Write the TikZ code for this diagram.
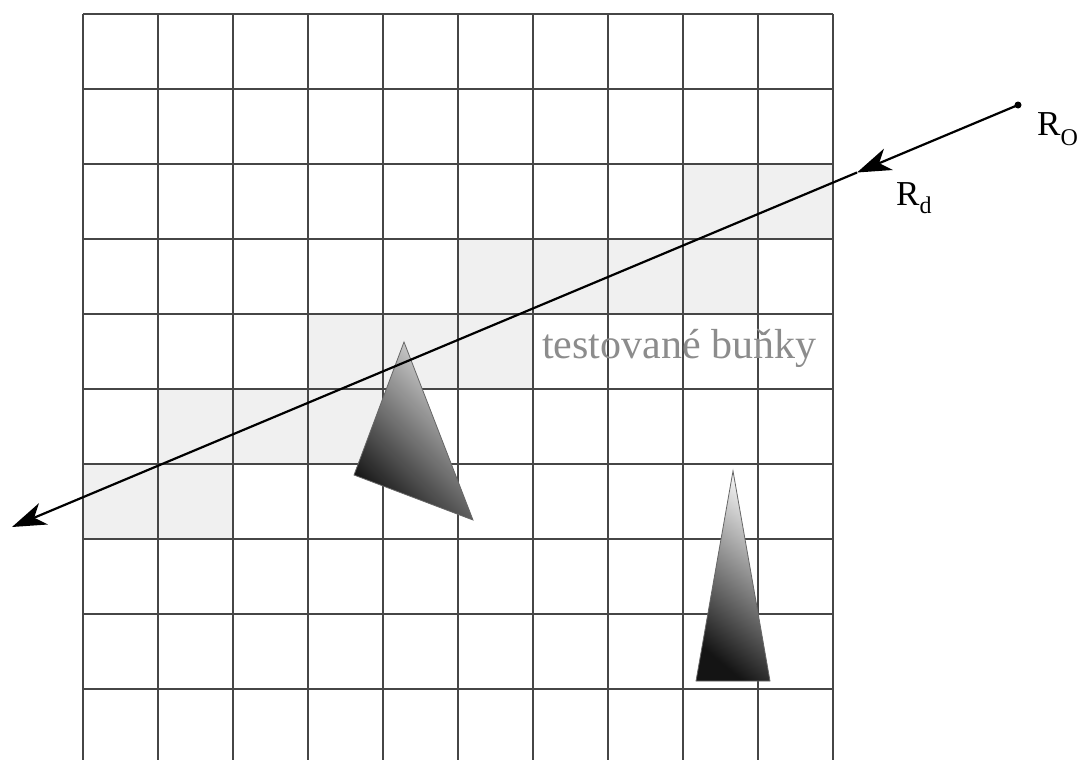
\documentclass[tikz,border=0pt]{standalone}
\usepackage{fontspec}
\setmainfont{Liberation Serif}
\usetikzlibrary{arrows.meta}
\definecolor{cellgray}{RGB}{240,240,240}
\definecolor{gridline}{RGB}{70,70,70}
\definecolor{labelgray}{RGB}{140,140,140}
\tikzset{
  cell/.style={fill=cellgray, draw=none},
  gridstyle/.style={draw=gridline, line width=1.6pt},
  ray/.style={draw=black, line width=2.2pt},
  raytip/.style={-{Stealth[length=34pt, width=23pt, inset=10pt]}},
  tri/.style={draw=black!60, line width=0.8pt},
  lbl/.style={inner sep=0pt, anchor=base west, font=\fontsize{35}{40}\selectfont},
}
\begin{document}
\begin{tikzpicture}[x=1pt, y=-1pt]
\useasboundingbox (0,0) rectangle (1086,760);
% tested cells
\fill[cell] (683,164) rectangle (833,239);
\fill[cell] (458,239) rectangle (758,314);
\fill[cell] (308,314) rectangle (533,389);
\fill[cell] (158,389) rectangle (383,464);
\fill[cell] (83,464) rectangle (233,539);
% grid
\foreach \x in {83,158,...,833} \draw[gridstyle] (\x,14) -- (\x,760);
\foreach \y in {14,89,...,689} \draw[gridstyle] (83,\y) -- (833,\y);
% triangles
\path[tri, top color=gray!25, bottom color=black!92, shading angle=-45]
  (404,342) coordinate (t1a) -- (354,475) coordinate (t1b) -- (473,520) coordinate (t1c) -- cycle;
\path[tri, top color=gray!12, bottom color=black!92, shading angle=-40]
  (733,471) coordinate (t2a) -- (696,681) coordinate (t2b) -- (770,681) coordinate (t2c) -- cycle;
% label
\node[lbl, text=labelgray, font=\fontsize{42}{48}\selectfont] (tb) at (542,358) {testované buňky};
% ray
\coordinate (RO) at (1018,105);
\coordinate (M) at (857,172.5);
\coordinate (E) at (12,527);
\fill (RO) circle (3.5pt);
\draw[ray, raytip] (RO) -- (M);
\draw[ray, raytip] (M) -- (E);
\node[lbl] (ro) at (1037,135) {R\raisebox{-10pt}{\fontsize{24}{26}\selectfont O}};
\node[lbl] (rd) at (896,205) {R\raisebox{-8pt}{\fontsize{24}{26}\selectfont d}};
\end{tikzpicture}
\end{document}
